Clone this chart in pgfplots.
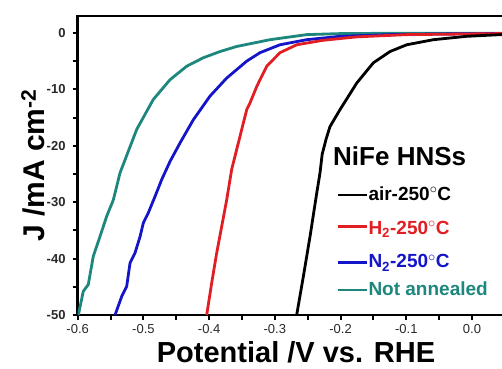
\documentclass[border=0pt]{standalone}
\usepackage{pgfplots}
\pgfplotsset{compat=1.18}
\usepackage{fontspec}
\setmainfont{Liberation Sans}
\definecolor{cred}{RGB}{225,30,35}
\definecolor{cblue}{RGB}{20,20,200}
\definecolor{cteal}{RGB}{30,135,125}
\definecolor{tickgray}{RGB}{40,40,40}
\begin{document}
\begin{tikzpicture}
\useasboundingbox (-77.7pt,-53pt) rectangle (424.3pt,315pt);
\begin{axis}[
  at={(0pt,0pt)}, anchor=south west,
  scale only axis, width=430pt, height=299pt,
  xmin=-0.6, xmax=0.0543, ymin=-50, ymax=3,
  axis line style={line width=2.6pt},
  tick align=outside, xtick pos=left, ytick pos=left,
  tick style={line width=2pt, black},
  major tick length=5pt, minor tick length=5pt,
  xtick={-0.6,-0.5,-0.4,-0.3,-0.2,-0.1,0},
  xticklabels={-0.6,-0.5,-0.4,-0.3,-0.2,-0.1,0.0},
  ytick={-50,-40,-30,-20,-10,0},
  yticklabels={-50,-40,-30,-20,-10,0},
  minor x tick num=1, minor y tick num=1,
  ticklabel style={font=\fontsize{13}{13}\selectfont, text=tickgray, inner sep=0pt},
  xticklabel style={anchor=north, yshift=-4pt},
  yticklabel style={anchor=east, xshift=-7pt, font=\fontsize{13}{13}\selectfont\bfseries},
  xlabel={\textbf{Potential /V vs. RHE}},
  ylabel={\textbf{J /mA cm\textsuperscript{-2}}},
  xlabel style={font=\fontsize{29}{29}\selectfont, at={(axis description cs:0.5077,-0.1572)}, anchor=base, inner sep=0pt},
  ylabel style={font=\fontsize{30}{30}\selectfont, at={(axis description cs:-0.0761,0.5)}, anchor=base, inner sep=0pt},
  every axis plot/.append style={line width=2.8pt, line join=round},
]
% Not annealed
\addplot[cteal] coordinates {
(-0.599,-50) (-0.5915,-45.8) (-0.5839,-44.6) (-0.5763,-39.6) (-0.5661,-36.1)
(-0.5559,-32.5) (-0.5458,-29.6) (-0.5356,-24.8) (-0.5280,-22.5) (-0.5102,-17.1)
(-0.4850,-11.8) (-0.4596,-8.3) (-0.4341,-5.9) (-0.4089,-4.4) (-0.3835,-3.3)
(-0.3581,-2.4) (-0.3074,-1.2) (-0.2516,-0.3) (-0.2009,-0.12) (-0.1096,-0.05) (0.055,-0.05)
};
% N2
\addplot[cblue] coordinates {
(-0.5432,-50) (-0.5330,-46.7) (-0.5254,-44.9) (-0.5204,-40.8) (-0.5128,-39.0)
(-0.5051,-36.1) (-0.5002,-33.7) (-0.4926,-31.9) (-0.4824,-29.0) (-0.4722,-26.0)
(-0.4596,-22.8) (-0.4443,-19.5) (-0.4241,-15.4) (-0.3987,-11.2) (-0.3733,-8.0)
(-0.3428,-5.0) (-0.3226,-3.5) (-0.2922,-2.1) (-0.2516,-1.2) (-0.2009,-0.6)
(-0.1248,-0.3) (-0.0487,-0.18) (0.055,-0.1)
};
% H2
\addplot[cred] coordinates {
(-0.4037,-50) (-0.3961,-44.3) (-0.3885,-39.0) (-0.3809,-34.3) (-0.3733,-29.6)
(-0.3657,-24.2) (-0.3530,-18.3) (-0.3428,-13.6) (-0.3378,-12.4) (-0.3276,-9.5)
(-0.3226,-8.3) (-0.3124,-5.9) (-0.2922,-3.5) (-0.2668,-2.1) (-0.2263,-1.3)
(-0.1755,-0.7) (-0.0994,-0.3) (-0.003,-0.18) (0.055,-0.1)
};
% air
\addplot[black] coordinates {
(-0.2668,-50) (-0.2567,-43.2) (-0.2465,-36.1) (-0.2363,-28.4) (-0.2313,-24.8)
(-0.2280,-21.5) (-0.2220,-18.8) (-0.2161,-16.6) (-0.2009,-13.6) (-0.1755,-8.9)
(-0.1502,-5.3) (-0.1248,-3.3) (-0.0994,-2.1) (-0.0589,-1.2) (-0.0081,-0.6)
(0.0441,-0.3) (0.055,-0.25)
};
\end{axis}
% legend
\node[anchor=base west, inner sep=0pt, font=\fontsize{26}{26}\selectfont\bfseries] at (255.3pt,150pt) {NiFe HNSs};
\begin{scope}[line width=2.8pt]
\draw[black] (260.6pt,120pt) -- (289pt,120pt);
\draw[cred] (260.6pt,88.3pt) -- (289pt,88.3pt);
\draw[cblue] (260.6pt,52.7pt) -- (289pt,52.7pt);
\draw[cteal] (260.6pt,25pt) -- (289pt,25pt);
\end{scope}
\begin{scope}[every node/.style={anchor=base west, inner sep=0pt, font=\fontsize{19}{19}\selectfont\bfseries}]
\node[text=black] at (290.6pt,115pt) {air-250\textsuperscript{$\circ$}C};
\node[text=cred] at (290.6pt,81pt) {H\textsubscript{2}-250\textsuperscript{$\circ$}C};
\node[text=cblue] at (290.6pt,47.3pt) {N\textsubscript{2}-250\textsuperscript{$\circ$}C};
\node[text=cteal] at (290.6pt,20pt) {Not annealed};
\end{scope}
\end{tikzpicture}
\end{document}
